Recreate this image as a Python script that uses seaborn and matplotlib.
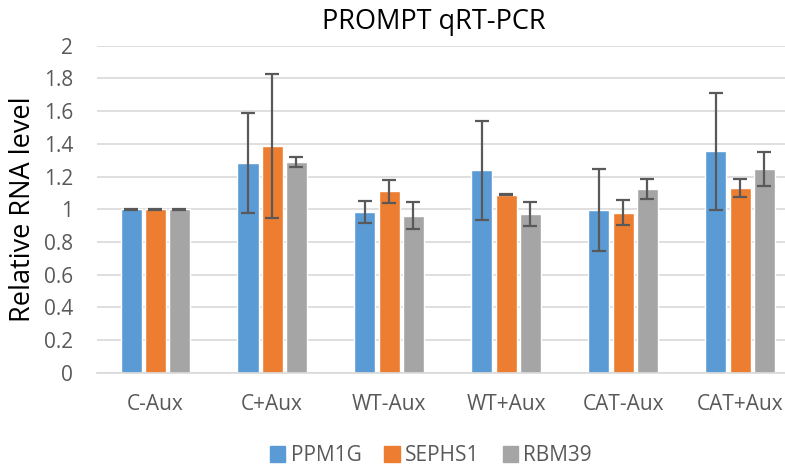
import numpy as np
import pandas as pd
import matplotlib
matplotlib.use("Agg")
import matplotlib.pyplot as plt
import seaborn as sns

# -------------------------
# Data
# -------------------------
conditions = ["C-Aux", "C+Aux", "WT-Aux", "WT+Aux", "CAT-Aux", "CAT+Aux"]
genes = ["PPM1G", "SEPHS1", "RBM39"]

ppm1g = [1.00, 1.285, 0.983, 1.238, 0.997, 1.355]
sephs1 = [1.00, 1.39, 1.111, 1.089, 0.979, 1.129]
rbm39 = [1.00, 1.29, 0.962, 0.972, 1.125, 1.247]

ppm1g_err = [0.003, 0.305, 0.066, 0.303, 0.252, 0.359]
sephs1_err = [0.003, 0.44, 0.07, 0.003, 0.075, 0.056]
rbm39_err = [0.003, 0.03, 0.083, 0.071, 0.063, 0.105]

colors = ["#5B9BD5", "#ED7D31", "#A5A5A5"]

values = [ppm1g, sephs1, rbm39]
errors = [ppm1g_err, sephs1_err, rbm39_err]

rows = []
for g, vals, errs in zip(genes, values, errors):
    for c, v, e in zip(conditions, vals, errs):
        rows.append({"condition": c, "gene": g, "value": v, "err": e})
df = pd.DataFrame(rows)

# -------------------------
# Plot
# -------------------------
sns.set_theme(style="white")
plt.rcParams["font.family"] = ["Open Sans", "DejaVu Sans"]

fig = plt.figure(figsize=(7.85, 4.65), dpi=100)
ax = fig.add_axes([0.1232, 0.198, 0.894, 0.7037])

sns.barplot(
    data=df, x="condition", y="value", hue="gene",
    order=conditions, hue_order=genes, palette=colors,
    width=0.62, gap=0.13, errorbar=None, ax=ax, legend=True,
    saturation=1,
)

# error bars from precomputed values
for cont, g in zip(ax.containers, genes):
    sub = df[df.gene == g].set_index("condition").loc[conditions]
    xs = [p.get_x() + p.get_width() / 2 for p in cont.patches]
    ax.errorbar(xs, sub["value"].values, yerr=sub["err"].values,
                fmt="none", ecolor="#595959", elinewidth=1.6,
                capsize=5, capthick=1.6, zorder=4)

ax.set_ylim(0, 2)
ax.set_xlim(-0.5, 5.5)
ax.set_yticks(np.arange(0, 2.01, 0.2))
ax.set_yticklabels(["0", "0.2", "0.4", "0.6", "0.8", "1", "1.2", "1.4", "1.6", "1.8", "2"])
ax.yaxis.grid(True, color="#D9D9D9", linewidth=1.2)
ax.set_axisbelow(True)
for side in ["top", "right", "left"]:
    ax.spines[side].set_visible(False)
ax.spines["bottom"].set_color("#D9D9D9")
ax.spines["bottom"].set_linewidth(1.2)
ax.tick_params(axis="both", colors="#595959", labelsize=15, length=0)
ax.tick_params(axis="x", pad=15)
ax.tick_params(axis="y", pad=17)
ax.set_xlabel("")
ax.set_ylabel("Relative RNA level", fontsize=19.5, color="black")
ax.yaxis.set_label_coords(-0.085, 0.5)

fig.text(0.552, 0.952, "PROMPT qRT-PCR", ha="center", va="center", fontsize=19.5, color="black")

ax.legend_.remove()
handles = [plt.Rectangle((0, 0), 1, 1, color=c) for c in colors]
fig.legend(handles, genes, loc="center", bbox_to_anchor=(0.549, 0.02),
           ncol=3, frameon=False, fontsize=15, handlelength=0.75,
           handleheight=0.75, handletextpad=0.25, columnspacing=1.1,
           labelcolor="#595959", borderpad=0)

fig.savefig("out.png", dpi=100)
